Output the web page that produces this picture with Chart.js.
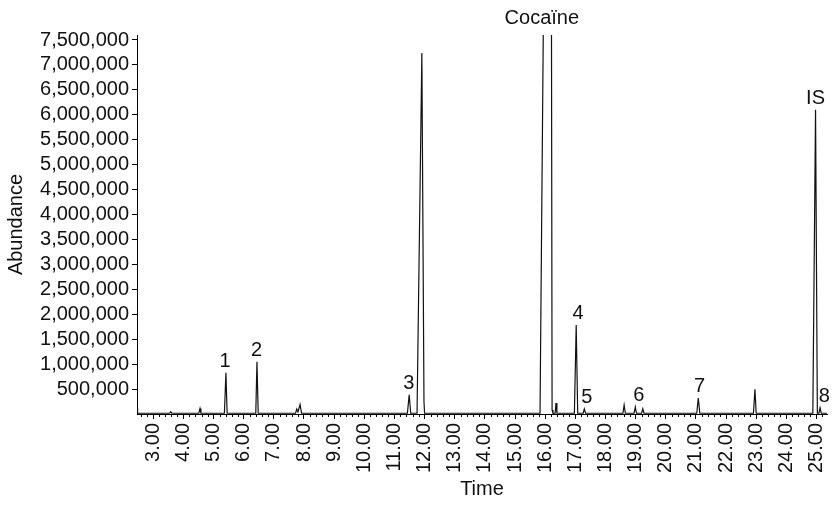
<!DOCTYPE html>
<html>
<head>
<meta charset="utf-8">
<script src="https://cdn.jsdelivr.net/npm/chart.js@4.4.1/dist/chart.umd.min.js"></script>
<style>
  html, body { margin: 0; padding: 0; background: #fff; }
  #wrap { width: 832px; height: 505px; }
</style>
</head>
<body>
<div id="wrap"><canvas id="chromChart"></canvas></div>
<script>
// retention time (min) and abundance of the trace
const tiempos = [
  2.46, 2.48, 2.52,
  3.54, 3.58, 3.62,
  4.51, 4.55, 4.58,
  5.36, 5.41, 5.45,
  6.40, 6.44, 6.48,
  7.72, 7.76, 7.80, 7.87, 7.92,
  11.43, 11.49, 11.54,
  11.75, 11.91, 11.98, 12.00,
  15.83, 15.94, 16.21, 16.23, 16.26,
  16.33, 16.36, 16.39,
  16.97, 17.03, 17.08,
  17.26, 17.30, 17.34,
  18.58, 18.62, 18.66,
  18.95, 18.99, 19.03,
  19.20, 19.24, 19.28,
  21.03, 21.08, 21.13,
  22.91, 22.96, 23.00,
  24.88, 24.97, 25.03,
  25.08, 25.12, 25.16, 25.35
];
const abundancia = [
  120000, 15000, 15000,
  15000, 45000, 15000,
  15000, 110000, 15000,
  15000, 828000, 15000,
  15000, 1049000, 15000,
  15000, 100000, 40000, 190000, 15000,
  15000, 387000, 15000,
  15000, 7240000, 250000, 15000,
  15000, 7800000, 7800000, 80000, 15000,
  15000, 220000, 15000,
  15000, 1785000, 15000,
  15000, 100000, 15000,
  15000, 180000, 15000,
  15000, 140000, 15000,
  15000, 105000, 15000,
  15000, 321000, 15000,
  15000, 495000, 15000,
  15000, 6100000, 15000,
  15000, 125000, 15000, 15000
];

// peak annotations: text, where it is centred (min), apex it sits on
const etiquetas = ['1', '2', '3', 'Cocaïne', '4', '5', '6', '7', 'IS', '8'];
const etiquetaTiempo = [5.38, 6.43, 11.48, 15.89, 17.09, 17.38, 19.11, 21.12, 24.97, 25.26];
const etiquetaAltura = [828000, 1049000, 387000, 7700000, 1785000, 100000, 140000, 321000, 6100000, 125000];

const xTicks = [3, 4, 5, 6, 7, 8, 9, 10, 11, 12, 13, 14, 15, 16, 17, 18, 19, 20, 21, 22, 23, 24, 25];
const yTicks = [500000, 1000000, 1500000, 2000000, 2500000, 3000000, 3500000, 4000000,
  4500000, 5000000, 5500000, 6000000, 6500000, 7000000, 7500000];

const fuente = 'Liberation Sans, Arial, Helvetica, sans-serif';

const puntos = tiempos.map((t, i) => ({ x: t, y: abundancia[i] }));

// small ticks every 0.2 min below the time axis
const ticksMenores = {
  id: 'ticksMenores',
  afterDraw(chart) {
    const xs = chart.scales.x;
    const c = chart.ctx;
    const y0 = chart.chartArea.bottom;
    c.save();
    c.strokeStyle = '#000';
    c.lineWidth = 1;
    c.beginPath();
    for (let k = Math.ceil(xs.min * 5); k <= Math.floor(xs.max * 5); k++) {
      if (k % 5 === 0) continue;
      const px = Math.round(xs.getPixelForValue(k / 5)) + 0.5;
      c.moveTo(px, y0);
      c.lineTo(px, y0 + 3);
    }
    c.stroke();
    c.restore();
  }
};

const rotulosPicos = {
  id: 'rotulosPicos',
  afterDatasetsDraw(chart) {
    const xs = chart.scales.x, ys = chart.scales.y;
    const c = chart.ctx;
    c.save();
    c.fillStyle = '#111';
    c.font = '20px ' + fuente;
    c.textAlign = 'center';
    c.textBaseline = 'alphabetic';
    etiquetas.forEach((txt, i) => {
      const px = xs.getPixelForValue(etiquetaTiempo[i]);
      const py = ys.getPixelForValue(etiquetaAltura[i]) - 6;
      c.fillText(txt, px, py);
    });
    c.restore();
  }
};

const ctx = document.getElementById('chromChart').getContext('2d');
new Chart(ctx, {
  type: 'line',
  data: {
    datasets: [{
      data: puntos,
      borderColor: '#111',
      borderWidth: 1.2,
      pointRadius: 0,
      tension: 0,
      fill: false,
      clip: 0
    }]
  },
  options: {
    responsive: true,
    maintainAspectRatio: false,
    animation: false,
    layout: { padding: { top: 35, right: 5, left: 0, bottom: 0 } },
    plugins: {
      legend: { display: false },
      tooltip: { enabled: false }
    },
    scales: {
      x: {
        type: 'linear',
        min: 2.46,
        max: 25.35,
        afterBuildTicks: (scale) => { scale.ticks = xTicks.map(v => ({ value: v })); },
        afterFit: (scale) => {
          scale.height = 91;
          scale.paddingLeft = 0;
          scale.paddingRight = 0;
        },
        border: { display: true, color: '#000', width: 1 },
        grid: { drawOnChartArea: false, drawTicks: true, tickLength: 5, color: '#000' },
        ticks: {
          color: '#111',
          font: { family: fuente, size: 20 },
          minRotation: 90,
          maxRotation: 90,
          padding: 4,
          autoSkip: false,
          callback: (v) => Number(v).toFixed(2)
        },
        title: {
          display: true,
          text: 'Time',
          color: '#111',
          font: { family: fuente, size: 20 },
          padding: { top: 0, bottom: 4 }
        }
      },
      y: {
        min: 0,
        max: 7600000,
        afterBuildTicks: (scale) => { scale.ticks = yTicks.map(v => ({ value: v })); },
        afterFit: (scale) => {
          scale.width = 137;
          scale.paddingTop = 0;
          scale.paddingBottom = 0;
        },
        border: { display: true, color: '#000', width: 1 },
        grid: { drawOnChartArea: false, drawTicks: true, tickLength: 5, color: '#000' },
        ticks: {
          color: '#111',
          font: { family: fuente, size: 20 },
          padding: 3,
          autoSkip: false,
          callback: (v) => Number(v).toLocaleString('en-US')
        },
        title: {
          display: true,
          text: 'Abundance',
          color: '#111',
          font: { family: fuente, size: 20 },
          padding: { top: 4, bottom: 0 }
        }
      }
    }
  },
  plugins: [ticksMenores, rotulosPicos]
});
</script>
</body>
</html>
